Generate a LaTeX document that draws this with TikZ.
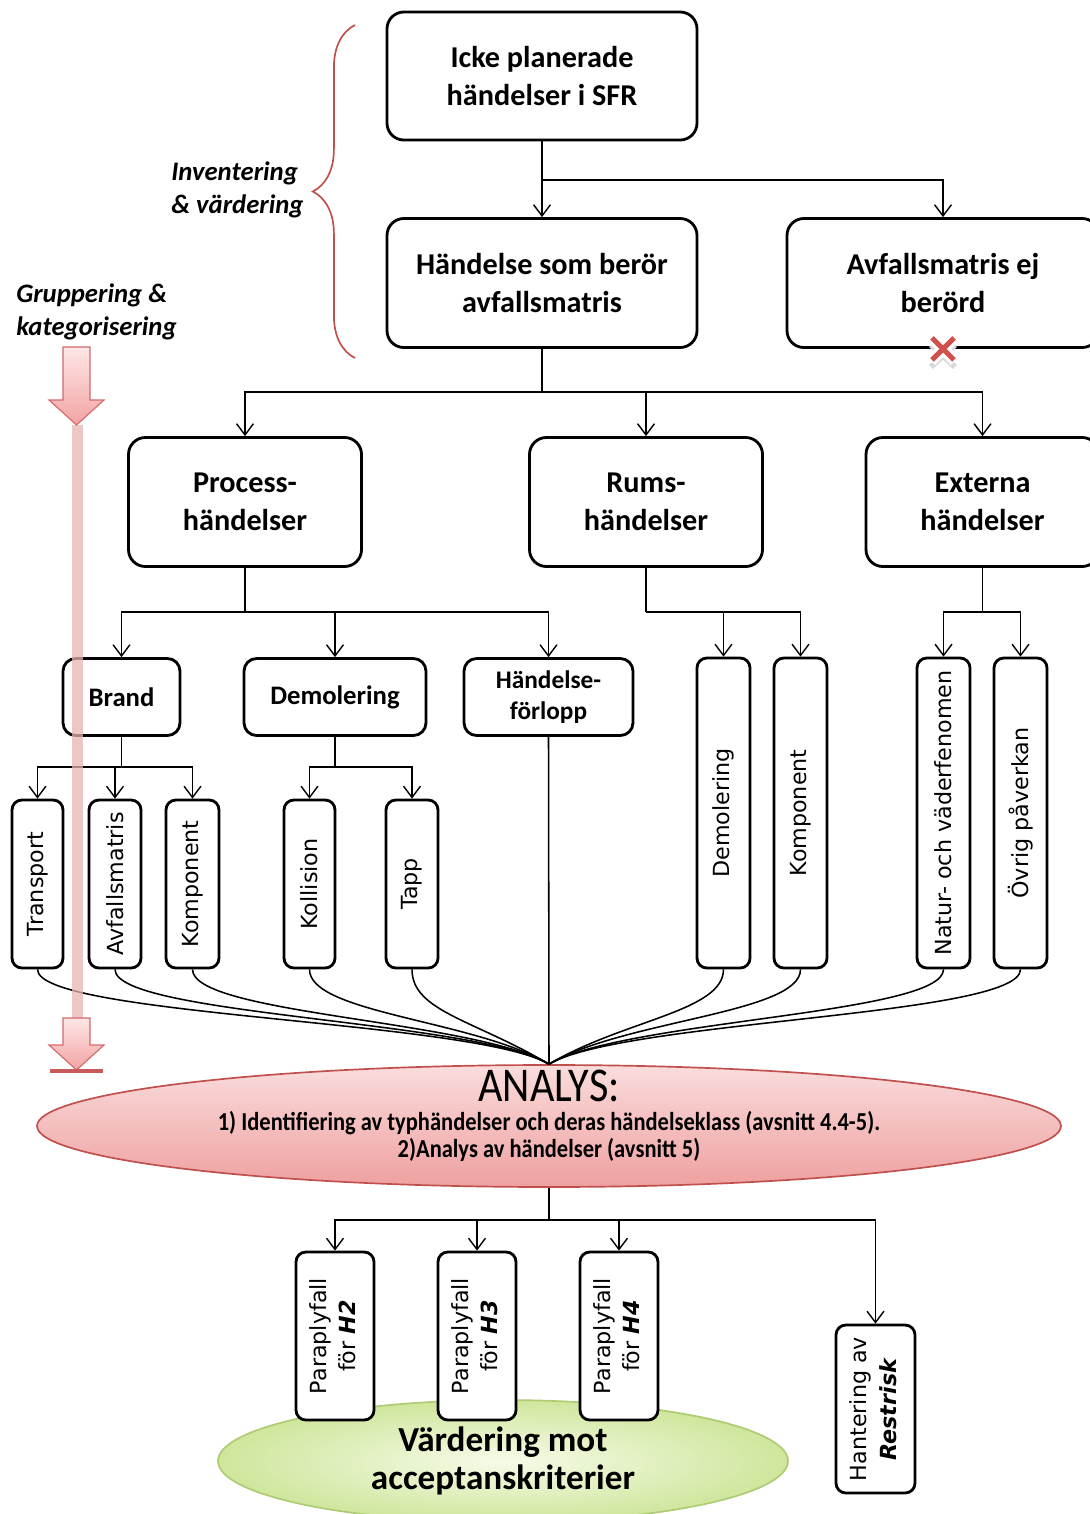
\documentclass[tikz,border=0pt]{standalone}
\usepackage{fontspec}
\usepackage{graphicx}
\setmainfont{Carlito}
\newfontfamily\vfont{DejaVu Sans}
\usetikzlibrary{arrows.meta,decorations.pathreplacing,shapes.geometric}
\definecolor{bracered}{HTML}{C0504D}
\definecolor{xred}{HTML}{D0504D}
\definecolor{pinkA}{HTML}{FDE6E6}
\definecolor{pinkB}{HTML}{F3A3A3}
\definecolor{arrowedge}{HTML}{D26A6A}
\definecolor{pinkline}{HTML}{E9B3B3}
\definecolor{barred}{HTML}{C85A5A}
\definecolor{anA}{HTML}{FADCDC}
\definecolor{anB}{HTML}{EFA0A0}
\definecolor{greenA}{HTML}{F6FBE8}
\definecolor{greenB}{HTML}{CFE69C}
\definecolor{greenedge}{HTML}{AFCB74}
\begin{document}
\begin{tikzpicture}[x=0.025cm,y=-0.025cm,
  sz/.style 2 args={minimum width=#1*0.025cm, minimum height=#2*0.025cm},
  bigbox/.style={draw, line width=2pt, rounded corners=12pt, fill=white, align=center, inner sep=0pt, font=\fontsize{21.5}{27}\selectfont\bfseries},
  midbox/.style={draw, line width=2pt, rounded corners=9pt, fill=white, align=center, inner sep=0pt, font=\fontsize{19}{22}\selectfont\bfseries},
  vbox/.style={draw, line width=2pt, rounded corners=7pt, fill=white, inner sep=0pt, font=\vfont\fontsize{15.8}{21}\selectfont},
  lbl/.style={align=left, inner sep=0pt, font=\fontsize{19}{23.5}\selectfont\bfseries\itshape},
  link/.style={line width=1pt},
  conn/.style={line width=1pt, -{Straight Barb[length=8pt,width=12pt]}},
  flow/.style={line width=1.1pt},
]
\useasboundingbox (0,0) rectangle (1090,1514);

% ---------- top level ----------
\node[bigbox, sz={310}{128}] (top) at (542,76) {Icke planerade\\händelser i SFR};
\node[bigbox, sz={310}{129}] (mid) at (542,283) {Händelse som berör\\avfallsmatris};
\node[bigbox, sz={312}{129}] (ej) at (943,283) {Avfallsmatris ej\\berörd};

\coordinate (j1) at (542,180);
\draw[link] (top.south) -- (j1);
\draw[conn] (j1) -- (mid.north);
\draw[conn] (j1) -| (ej.north);

% red cross
\begin{scope}[shift={(ej.south)}]
  \draw[line width=4pt, gray!30] (-12,-4) -- (12,18) (12,-4) -- (-12,18);
  \draw[line width=8pt, white] (-12,-12) -- (12,12) (12,-12) -- (-12,12);
  \draw[line width=3.6pt, xred] (-11,-11) -- (11,11) (11,-11) -- (-11,11);
\end{scope}

% brace and labels
\draw[bracered, line width=1.2pt, decorate, decoration={brace, amplitude=30pt}] (355,358) -- (355,25);
\node[lbl, anchor=west] (inv) at (171,190) {Inventering\\\& värdering};
\node[lbl, anchor=west] (grp) at (16,312) {Gruppering \&\\kategorisering};

% ---------- level 3 ----------
\node[bigbox, sz={233}{129}] (proc) at (245,502) {Process-\\händelser};
\node[bigbox, sz={233}{129}] (rums) at (646,502) {Rums-\\händelser};
\node[bigbox, sz={233}{129}] (ext) at (982.5,502) {Externa\\händelser};

\coordinate (j2) at (542,392);
\draw[link] (mid.south) -- (j2);
\draw[conn] (j2) -| (proc.north);
\draw[conn] (j2) -| (rums.north);
\draw[conn] (j2) -| (ext.north);

% ---------- level 4 ----------
\node[midbox, sz={117}{77}] (brand) at (121.5,697) {Brand};
\node[midbox, sz={182}{77}] (demo) at (335,697) {Demolering};
\node[midbox, sz={169}{77}, font=\fontsize{18}{22.5}\selectfont\bfseries] (hf) at (548.5,697) {Händelse-\\förlopp};

\coordinate (j3) at (245,612);
\draw[link] (proc.south) -- (j3);
\draw[conn] (j3) -| (brand.north);
\draw[conn] (j3) -| (demo.north);
\draw[conn] (j3) -| (hf.north);

\node[vbox, sz={53}{310}] (rdem) at (723.5,813) {\rotatebox{90}{Demolering}};
\node[vbox, sz={53}{310}] (rkom) at (800.5,813) {\rotatebox{90}{Komponent}};
\coordinate (j4) at (646,612);
\draw[link] (rums.south) -- (j4);
\draw[conn] (j4) -| (rdem.north);
\draw[conn] (j4) -| (rkom.north);

\node[vbox, sz={53}{310}] (nat) at (943.5,813) {\rotatebox{90}{Natur- och väderfenomen}};
\node[vbox, sz={53}{310}] (ovr) at (1020.5,813) {\rotatebox{90}{Övrig påverkan}};
\coordinate (j5) at (982.5,612);
\draw[link] (ext.south) -- (j5);
\draw[conn] (j5) -| (nat.north);
\draw[conn] (j5) -| (ovr.north);

% ---------- level 5 ----------
\node[vbox, sz={51}{168}] (tr) at (37.5,884) {\rotatebox{90}{Transport}};
\node[vbox, sz={52}{168}] (av) at (115,884) {\rotatebox{90}{Avfallsmatris}};
\node[vbox, sz={53}{168}] (ko) at (192.5,884) {\rotatebox{90}{Komponent}};
\coordinate (j6) at (121.5,767);
\draw[link] (brand.south) -- (j6);
\draw[conn] (j6) -| (tr.north);
\draw[conn] (j6) -| (av.north);
\draw[conn] (j6) -| (ko.north);

\node[vbox, sz={51}{168}] (kol) at (309.5,884) {\rotatebox{90}{Kollision}};
\node[vbox, sz={52}{168}] (tapp) at (412,884) {\rotatebox{90}{Tapp}};
\coordinate (j7) at (335,767);
\draw[link] (demo.south) -- (j7);
\draw[conn] (j7) -| (kol.north);
\draw[conn] (j7) -| (tapp.north);

% ---------- ANALYS ----------
\node[ellipse, draw=bracered, line width=1.2pt, top color=anA, bottom color=anB, sz={1024}{122}, inner sep=0pt] (analys) at (549,1126) {};
\node[inner sep=0pt] (an0) at (549,1086) {\scalebox{1}[1.15]{\fontsize{30}{32}\selectfont ANALYS:}};
\node[inner sep=0pt] (an1) at (549,1123) {\scalebox{1}[1.15]{\fontsize{16}{18}\selectfont\bfseries 1) Identifiering av typhändelser och deras händelseklass (avsnitt 4.4-5).}};
\node[inner sep=0pt] (an2) at (549,1150) {\scalebox{1}[1.15]{\fontsize{16}{18}\selectfont\bfseries 2)Analys av händelser (avsnitt 5)}};

% converging connectors
\draw[flow] (hf.south) -- (analys.north);
\draw[flow] (tr.south) .. controls +(0,47) and (475,1020) .. (analys.north);
\draw[flow] (av.south) .. controls +(0,46) and (475,1020) .. (analys.north);
\draw[flow] (ko.south) .. controls +(0,45) and (475,1020) .. (analys.north);
\draw[flow] (kol.south) .. controls +(0,44) and (475,1020) .. (analys.north);
\draw[flow] (tapp.south) .. controls +(0,42) and (475,1020) .. (analys.north);
\draw[flow] (rdem.south) .. controls +(0,42) and (623,1020) .. (analys.north);
\draw[flow] (rkom.south) .. controls +(0,44) and (623,1020) .. (analys.north);
\draw[flow] (nat.south) .. controls +(0,45) and (623,1020) .. (analys.north);
\draw[flow] (ovr.south) .. controls +(0,47) and (623,1020) .. (analys.north);

% ---------- bottom ----------
\node[ellipse, draw=greenedge, line width=1.2pt, inner color=greenA, outer color=greenB, sz={570}{122}, inner sep=0pt, align=center, font=\fontsize{25}{26.5}\selectfont\bfseries] (varde) at (503,1461) {Värdering mot\\acceptanskriterier};

\node[vbox, sz={78}{168}] (p2) at (335,1336) {\rotatebox{90}{\begin{tabular}{@{}c@{}}Paraplyfall\\för \textbf{\textit{H2}}\end{tabular}}};
\node[vbox, sz={78}{168}] (p3) at (477,1336) {\rotatebox{90}{\begin{tabular}{@{}c@{}}Paraplyfall\\för \textbf{\textit{H3}}\end{tabular}}};
\node[vbox, sz={78}{168}] (p4) at (619,1336) {\rotatebox{90}{\begin{tabular}{@{}c@{}}Paraplyfall\\för \textbf{\textit{H4}}\end{tabular}}};
\node[vbox, sz={79}{168}] (rest) at (875.5,1409) {\rotatebox{90}{\begin{tabular}{@{}c@{}}Hantering av\\\textbf{\textit{Restrisk}}\end{tabular}}};

\coordinate (j8) at (549,1220);
\draw[link] (analys.south) -- (j8);
\draw[conn] (j8) -| (p2.north);
\draw[conn] (j8) -| (p3.north);
\draw[conn] (j8) -| (p4.north);
\draw[conn] (j8) -| (rest.north);

% ---------- grouping arrow ----------
\fill[pinkline, opacity=0.75] (72,425) rectangle (83,1018);
\draw[arrowedge, line width=0.8pt, top color=pinkA, bottom color=pinkB]
  (63,347) -- (90,347) -- (90,400) -- (104,400) -- (76.5,425) -- (49,400) -- (63,400) -- cycle;
\draw[arrowedge, line width=0.8pt, top color=pinkA, bottom color=pinkB]
  (63,1018) -- (90,1018) -- (90,1045) -- (104,1045) -- (76.5,1070) -- (49,1045) -- (63,1045) -- cycle;
\draw[barred, line width=2.8pt] (50,1071) -- (103,1071);
\end{tikzpicture}
\end{document}
